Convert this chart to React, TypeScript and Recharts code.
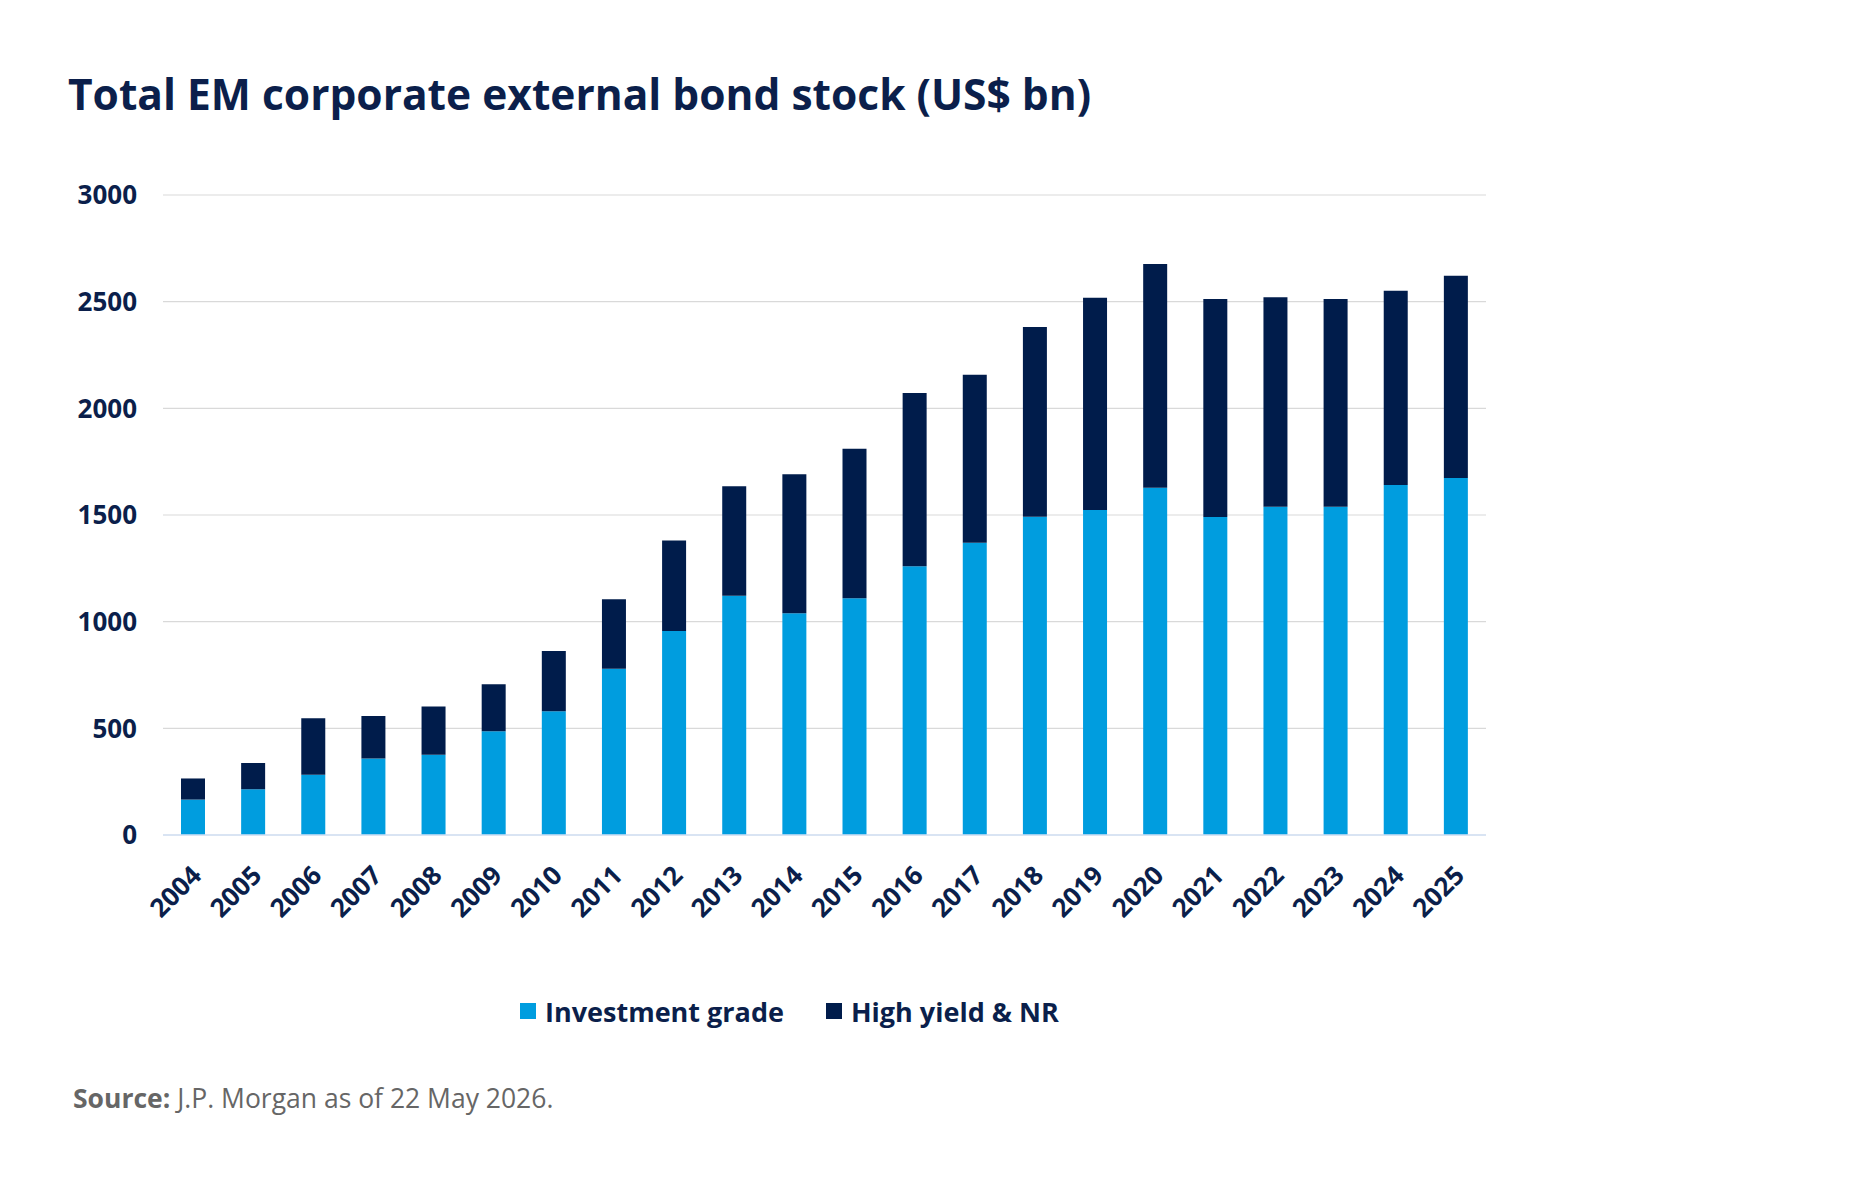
import React from "react";
import { BarChart, Bar, XAxis, YAxis, CartesianGrid } from "recharts";

const years = ["2004","2005","2006","2007","2008","2009","2010","2011","2012","2013","2014","2015","2016","2017","2018","2019","2020","2021","2022","2023","2024","2025"];
const investmentGrade = [166,215,282,359,376,486,580,779,956,1122,1039,1110,1260,1370,1492,1524,1628,1491,1539,1539,1641,1674];
const totalStock = [265,337,547,558,602,707,862,1105,1381,1635,1691,1810,2072,2157,2381,2518,2676,2513,2521,2513,2551,2621];
const yTicks = [0,500,1000,1500,2000,2500,3000];

const seriesNames = ["Investment grade", "High yield & NR"];
const seriesColors = ["#009DDF", "#001C4B"];

const data = years.map((y, i) => ({
  year: y,
  ig: investmentGrade[i],
  hy: totalStock[i] - investmentGrade[i],
}));

const NAVY = "#0B1F4B";
const FONT = "'Open Sans', 'Noto Sans', sans-serif";

const XTick = (props: any) => {
  const { x, y, payload } = props;
  const ax = x + 10;
  const ay = y + 40;
  return (
    <text
      x={ax}
      y={ay}
      transform={`rotate(-45, ${ax}, ${ay})`}
      textAnchor="end"
      fill={NAVY}
      fontFamily={FONT}
      fontWeight={700}
      fontSize={26}
    >
      {payload.value}
    </text>
  );
};

export default function App() {
  return (
    <div style={{ position: "absolute", left: 0, top: 0, width: 1852, height: 1200, background: "#fff", fontFamily: FONT }}>
      <div style={{ position: "absolute", left: 68, top: 68, fontSize: 42.5, fontWeight: 700, color: NAVY, whiteSpace: "nowrap", lineHeight: "52px" }}>
        Total EM corporate external bond stock (US$ bn)
      </div>
      <div style={{ position: "absolute", left: 0, top: 0 }}>
        <BarChart
          width={1852}
          height={1200}
          data={data}
          margin={{ top: 195, right: 366, bottom: 305, left: 103 }}
          barCategoryGap={0}
        >
          <CartesianGrid vertical={false} stroke="#d9d9d9" strokeWidth={1.2} />
          <XAxis
            dataKey="year"
            height={60}
            tickLine={false}
            tickSize={0}
            axisLine={{ stroke: "#d3e2f6", strokeWidth: 1.5 }}
            tick={<XTick />}
            interval={0}
          />
          <YAxis
            width={60}
            domain={[0, 3000]}
            ticks={yTicks}
            axisLine={false}
            tickLine={false}
            tickSize={0}
            tickMargin={26}
            tick={{ fill: NAVY, fontFamily: FONT, fontWeight: 700, fontSize: 26 }}
          />
          <Bar dataKey="ig" stackId="a" fill={seriesColors[0]} barSize={24} isAnimationActive={false} />
          <Bar dataKey="hy" stackId="a" fill={seriesColors[1]} barSize={24} isAnimationActive={false} />
        </BarChart>
      </div>
      <div style={{ position: "absolute", left: 520, top: 992, height: 38, display: "flex", alignItems: "center", fontSize: 27, fontWeight: 700, color: NAVY, whiteSpace: "nowrap" }}>
        {seriesNames.map((n, i) => (
          <div key={n} style={{ display: "flex", alignItems: "center", marginRight: i === 0 ? 42 : 0 }}>
            <span style={{ display: "inline-block", width: 16, height: 16, background: seriesColors[i], marginRight: 9 }} />
            <span>{n}</span>
          </div>
        ))}
      </div>
      <div style={{ position: "absolute", left: 73, top: 1079, height: 38, lineHeight: "38px", fontSize: 26.5, color: "#666", whiteSpace: "nowrap" }}>
        <b>Source:</b> J.P. Morgan as of 22 May 2026.
      </div>
    </div>
  );
}
